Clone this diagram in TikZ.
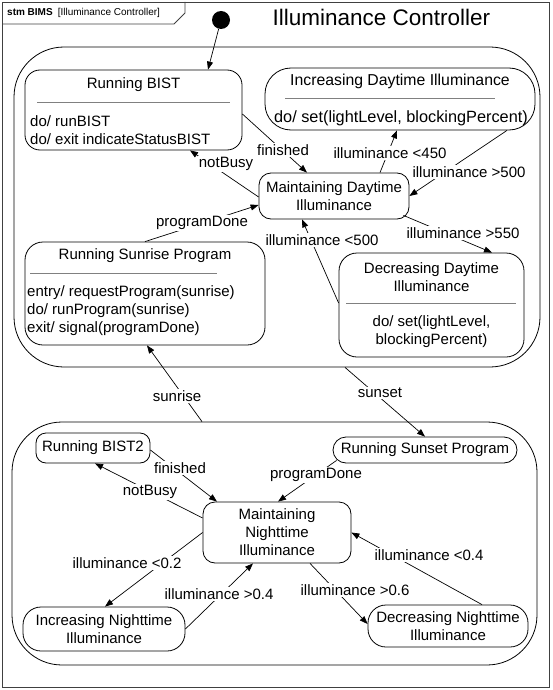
\documentclass[tikz,border=0pt]{standalone}
\usepackage{fontspec}
\setmainfont{Liberation Sans}
\usetikzlibrary{arrows.meta,calc}
\begin{document}
\begin{tikzpicture}[x=1pt,y=-1pt,
  font=\fontsize{15}{18}\selectfont,
  state/.style={draw, rounded corners=#1, line width=0.8pt, inner sep=0pt, align=center},
  state/.default=12pt,
  txt/.style={inner sep=0pt, align=center},
  ltxt/.style={inner sep=0pt, align=left, anchor=west},
  sep/.style={draw=black!50, line width=0.8pt},
  tr/.style={draw, line width=0.7pt, -{Triangle[length=8pt,width=6pt]}},
  lbl/.style={fill=white, inner sep=1pt}]
\useasboundingbox (0,0) rectangle (553,690);
% frame
\draw[line width=0.9pt, draw=black!75] (2,2) rectangle (549,687);
\draw[line width=0.9pt, draw=black!75] (2,24) -- (174,24) -- (185,13) -- (185,2);
\node[inner sep=0pt, anchor=west, font=\fontsize{10}{12}\selectfont] (tab) at (7,13) {\textbf{stm BIMS}\hspace{5pt}[Illuminance Controller]};
\node[inner sep=0pt, font=\fontsize{22.5}{27}\selectfont] (title) at (381.5,17) {Illuminance Controller};
% initial
\node[circle, fill=black, inner sep=0pt, minimum size=18pt] (init) at (221,20) {};
% composites
\node[state=50pt, minimum width=526pt, minimum height=320pt] (upper) at (277,207) {};
\node[state=50pt, minimum width=525pt, minimum height=243pt] (lower) at (274.5,543.5) {};
% upper states
\node[state=15pt, minimum width=217pt, minimum height=80pt] (bist) at (133.5,110) {};
\node[txt] (bistT) at (133.5,85) {Running BIST};
\draw[sep] (37,102) -- (230,102);
\node[ltxt] (bistB) at (30,130) {do/ runBIST\\do/ exit indicateStatusBIST};

\node[state=26pt, minimum width=270pt, minimum height=62pt] (incday) at (400,99) {};
\node[txt, font=\fontsize{15.8}{18}\selectfont] (incdayT) at (400,81) {Increasing Daytime Illuminance};
\draw[sep] (285,98) -- (495,98);
\node[txt, font=\fontsize{16.3}{18}\selectfont] (incdayB) at (401,118) {do/ set(lightLevel, blockingPercent)};

\node[state=12pt, minimum width=150pt, minimum height=46pt] (maintday) at (334,196) {Maintaining Daytime\\Illuminance};

\node[state=18pt, minimum width=240pt, minimum height=103pt] (sunrise) at (145,293.5) {};
\node[txt] (sunriseT) at (145,256) {Running Sunrise Program};
\draw[sep] (30,273) -- (217,273);
\node[ltxt] (sunriseB) at (27,311) {entry/ requestProgram(sunrise)\\do/ runProgram(sunrise)\\exit/ signal(programDone)};

\node[state=18pt, minimum width=185pt, minimum height=104pt] (decday) at (431.5,305) {};
\node[txt] (decdayT) at (431.5,277) {Decreasing Daytime\\Illuminance};
\draw[sep] (346,303) -- (516,303);
\node[txt] (decdayB) at (431.5,332) {do/ set(lightLevel,\\blockingPercent)};
% lower states
\node[state=10pt, minimum width=114pt, minimum height=30pt] (bist2) at (93,448) {Running BIST2};
\node[state=13pt, minimum width=184pt, minimum height=26pt] (sunset) at (425,450) {Running Sunset Program};
\node[state=12pt, minimum width=148pt, minimum height=61pt] (maintnight) at (277,532.5) {Maintaining\\Nighttime\\Illuminance};
\node[state=18pt, minimum width=162pt, minimum height=44pt] (incnight) at (104,629) {Increasing Nighttime\\Illuminance};
\node[state=18pt, minimum width=160pt, minimum height=42pt] (decnight) at (448,626) {Decreasing Nighttime\\Illuminance};
% transitions
\draw[tr] (init) -- ([xshift=74.5pt]bist.north);
\draw[tr] ([yshift=-4pt]bist.east) -- ([xshift=-27pt]maintday.north);
\draw[tr] ([xshift=46pt]maintday.north) -- ([xshift=-3pt]incday.south);
\draw[tr] ([xshift=107pt]incday.south) -- (maintday.east);
\draw[tr] ([yshift=-1pt]maintday.west) -- ([xshift=56.5pt]bist.south);
\draw[tr] (sunrise.north) -- ([yshift=-9pt]maintday.west);
\draw[tr] ([xshift=-6pt,yshift=4pt]maintday.south east) -- ([xshift=60.5pt]decday.north);
\draw[tr] ([yshift=2pt]decday.west) -- ([xshift=-32pt]maintday.south);
\draw[tr] ([xshift=-72.5pt]lower.north) -- ([xshift=2pt]sunrise.south);
\draw[tr] ([xshift=68pt]upper.south) -- (sunset.north);
\draw[tr] ([yshift=-2pt]bist2.east) -- ([xshift=-60pt]maintnight.north);
\draw[tr] ([yshift=14.5pt]maintnight.west) -- ([xshift=2pt]bist2.south);
\draw[tr] ([xshift=4pt,yshift=3pt]sunset.south west) -- ([xshift=1pt]maintnight.north);
\draw[tr] (maintnight.west) -- ([xshift=1pt]incnight.north);
\draw[tr] (incnight.east) -- ([xshift=-24pt]maintnight.south);
\draw[tr] ([xshift=33pt]maintnight.south) -- ([yshift=2pt]decnight.west);
\draw[tr] ([xshift=34pt]decnight.north) -- (maintnight.east);
% labels
\node[lbl] (l1) at (283,150) {finished};
\node[lbl] (l2) at (390,153) {illuminance <450};
\node[lbl] (l3) at (469,172) {illuminance >500};
\node[lbl] (l4) at (226,164) {notBusy};
\node[lbl] (l5) at (202,223) {programDone};
\node[lbl] (l6) at (463,233) {illuminance >550};
\node[lbl] (l7) at (322,240) {illuminance <500};
\node[lbl] (l8) at (177,396) {sunrise};
\node[lbl] (l9) at (380,393) {sunset};
\node[lbl] (l10) at (180,468) {finished};
\node[lbl] (l11) at (150,492) {notBusy};
\node[lbl] (l12) at (316,475) {programDone};
\node[lbl] (l13) at (127,563) {illuminance <0.2};
\node[lbl] (l14) at (219,594) {illuminance >0.4};
\node[lbl] (l15) at (355,590) {illuminance >0.6};
\node[lbl] (l16) at (429,555) {illuminance <0.4};
\end{tikzpicture}
\end{document}
